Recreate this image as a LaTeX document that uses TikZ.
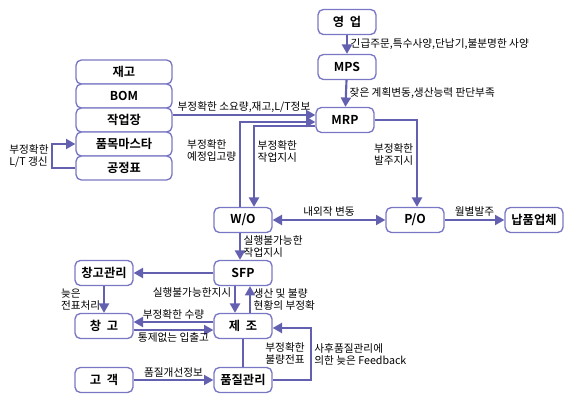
\documentclass[tikz,border=0pt]{standalone}
\usepackage{fontspec}
\setmainfont{Noto Sans CJK KR}[BoldFont={Noto Sans CJK KR Bold}]
\usetikzlibrary{arrows.meta, positioning}
\definecolor{FlowBlue}{RGB}{100,96,176}
\definecolor{BoxEdge}{RGB}{122,120,196}

\begin{document}
\begin{tikzpicture}[x=0.75pt, y=-0.75pt,
    box/.style={draw=BoxEdge, line width=1pt, rounded corners=4pt, fill=white,
                minimum width=43.5pt, minimum height=18.75pt, inner sep=0pt,
                font=\fontsize{9.2}{10}\selectfont\bfseries},
    stackbox/.style={box, minimum width=72pt, minimum height=18pt},
    flow/.style={draw=FlowBlue, line width=1.6pt, -{Triangle[length=7pt, width=7.5pt]}},
    lbl/.style={font=\fontsize{8}{9}\selectfont, inner sep=2pt, align=left}]
    \useasboundingbox (0,0) rectangle (569,409);

    % planning chain
    \node[box] (sales) at (347,22) {영\ \ 업};
    \node[box] (mps) at (347,67) {MPS};
    \node[box] (mrp) at (345,120) {MRP};

    % master data stack
    \node[stackbox] (stock) at (124,72) {재고};
    \node[stackbox] (bom) at (124,96) {BOM};
    \node[stackbox] (shop) at (124,120) {작업장};
    \node[stackbox] (item) at (124,144) {품목마스타};
    \node[stackbox] (route) at (124,168) {공정표};

    % orders
    \node[box] (wo) at (243,220) {W/O};
    \node[box] (po) at (415,220) {P/O};
    \node[box] (vendor) at (534,220) {납품업체};

    % shop floor
    \node[box] (sfp) at (243,273) {SFP};
    \node[box] (whmgmt) at (104,273) {창고관리};
    \node[box] (wh) at (104,326) {창\ \ 고};
    \node[box] (mfg) at (243,326) {제\ \ 조};
    \node[box] (cust) at (104,380) {고\ \ 객};
    \node[box] (qc) at (243,380) {품질관리};

    \draw[flow] (sales) -- (mps) node[lbl, midway, right] {긴급주문,특수사양,단납기,불분명한 사양};
    \draw[flow] (mps) -- (mrp) node[lbl, midway, right] {잦은 계획변동,생산능력 판단부족};
    \draw[flow] ([yshift=3.75pt]shop.east) -- ([yshift=3.75pt]mrp.west)
        node[lbl, pos=0.5, above, inner sep=1pt] {부정확한 소요량,재고,L/T정보};
    \draw[flow] ([xshift=-2.25pt]wo.north) |- ([yshift=-1.5pt]mrp.west)
        node[lbl, pos=0.33, left] {부정확한\\예정입고량};
    \draw[flow] ([yshift=-4.5pt]mrp.west) -| ([xshift=8.25pt]wo.north)
        node[lbl, pos=0.66, right] {부정확한\\작업지시};
    \draw[flow] (mrp.east) -| ([xshift=1.5pt]po.north)
        node[lbl, pos=0.7, left] {부정확한\\발주지시};
    \draw[flow, {Triangle[length=7pt, width=7.5pt]}-{Triangle[length=7pt, width=7.5pt]}] (wo) -- (po)
        node[lbl, midway, above] {내외작 변동};
    \draw[flow] (po) -- (vendor) node[lbl, midway, above] {월별발주};

    % left loop
    \draw[flow] (route.west) -- ++(-23,0) |- (item.west)
        node[lbl, pos=0.25, left] {부정확한\\L/T 갱신};

    % shop floor flows
    \draw[flow] ([xshift=-2.25pt]wo.south) -- ([xshift=-2.25pt]sfp.north)
        node[lbl, midway, right] {실행불가능한\\작업지시};
    \draw[flow] (sfp) -- (whmgmt);
    \draw[flow] (whmgmt) -- (wh) node[lbl, midway, left] {늦은\\전표처리};
    \draw[flow] ([xshift=-6pt]sfp.south) -- ([xshift=-6pt]mfg.north)
        node[lbl, pos=0.25, left] {실행불가능한지시};
    \draw[flow] ([xshift=5.25pt]mfg.north) -- ([xshift=5.25pt]sfp.south)
        node[lbl, midway, right] {생산 및 불량\\현황의 부정확};
    \draw[flow] ([yshift=3pt]mfg.west) -- ([yshift=3pt]wh.east)
        node[lbl, midway, above, inner sep=1pt] {부정확한 수량};
    \draw[flow] ([yshift=-3pt]wh.east) -- ([yshift=-3pt]mfg.west)
        node[lbl, midway, below, inner sep=1pt] {통제없는 입출고};
    \draw[flow] (cust) -- (qc) node[lbl, midway, above, inner sep=1pt] {품질개선정보};
    \draw[flow, -] (mfg) -- (qc) node[lbl, midway, right=14pt] {부정확한\\불량전표};
    \draw[flow] (qc.east) -- ++(38,0) |- ([yshift=-1.5pt]mfg.east)
        node[lbl, pos=0.25, right] {사후품질관리에\\의한 늦은 Feedback};
\end{tikzpicture}
\end{document}
